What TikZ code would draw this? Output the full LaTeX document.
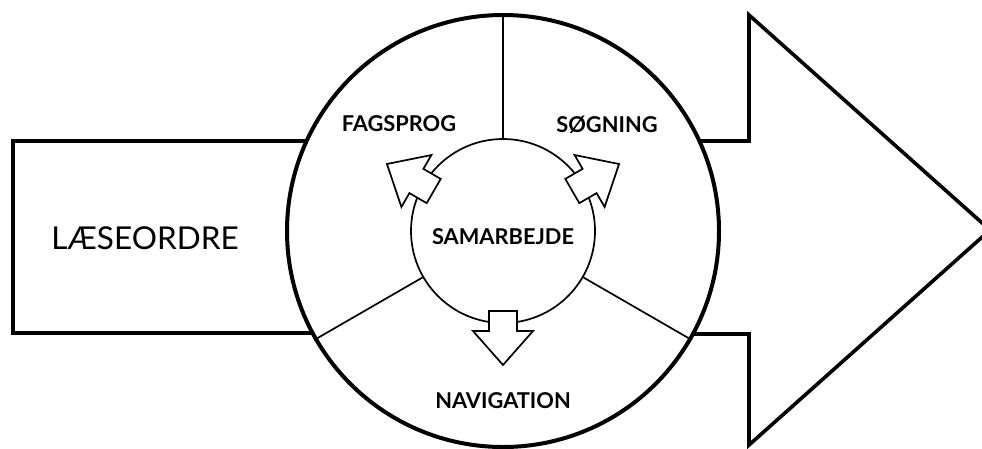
\documentclass[tikz,border=0pt]{standalone}
\usepackage{fontspec}
\setmainfont{Lato}
\begin{document}
\begin{tikzpicture}[x=1pt,y=-1pt,
  thickline/.style={line width=3.6pt, line join=miter},
  thinline/.style={line width=1.7pt},
  smallarrow/.style={draw, fill=white, line width=1.7pt, line join=miter},
  biglabel/.style={font=\fontsize{31.5}{31.5}\selectfont, text depth=0pt, inner sep=0pt},
  lbl/.style={font=\bfseries\fontsize{21.8}{21.8}\selectfont, text depth=0pt, inner sep=0pt}]
\useasboundingbox (0,0) rectangle (982,448);
\clip (0,0) rectangle (982,448);
\coordinate (c) at (503,231);
% left box
\draw[thickline] (12.7,141) rectangle (340,333);
% big arrow
\draw[thickline] (680,141) -- (749,141) -- (749,15) -- (990,230) -- (749,445) -- (749,334) -- (680,334);
% outer circle
\node[circle, draw, fill=white, line width=4pt, minimum size=432pt, inner sep=0pt] (outer) at (c) {};
% inner circle
\node[circle, draw, line width=1.7pt, minimum size=184pt, inner sep=0pt] (inner) at (c) {};
% dividers
\draw[thinline] (inner.90) -- (outer.90);
\draw[thinline] (inner.210) -- (outer.210);
\draw[thinline] (inner.330) -- (outer.330);
% small arrows
\foreach \a in {150,30,270}{
  \begin{scope}[shift={(c)}, rotate=\a]
    \draw[smallarrow] (80,-14) -- (100,-14) -- (100,-30) -- (134,0) -- (100,30) -- (100,14) -- (80,14) -- cycle;
  \end{scope}
}
% labels
\node[biglabel] (laese) at (145,238) {LÆSEORDRE};
\node[lbl] (fag) at (399,124) {FAGSPROG};
\node[lbl] (sog) at (607,124) {SØGNING};
\node[lbl] (sam) at (503,237) {SAMARBEJDE};
\node[lbl] (nav) at (503,401) {NAVIGATION};
\end{tikzpicture}
\end{document}
